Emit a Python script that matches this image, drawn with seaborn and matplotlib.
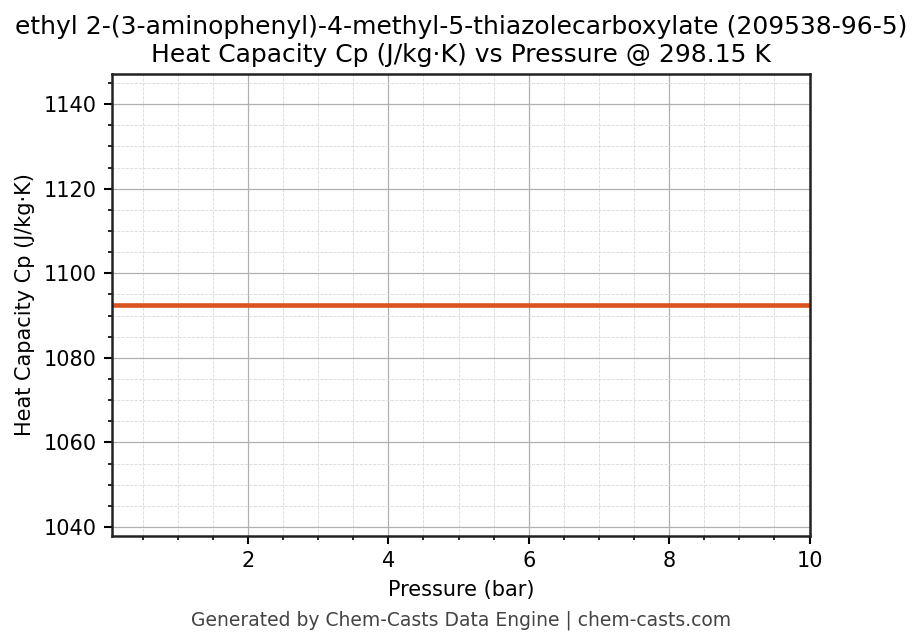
import numpy as np
import pandas as pd
import matplotlib
matplotlib.use("Agg")
import matplotlib.pyplot as plt
import seaborn as sns
from matplotlib.ticker import MultipleLocator

# data: Cp is flat over the pressure range
pressure_bar = [0.07, 2.0, 4.0, 6.0, 8.0, 10.0]
cp_values = [1092.4, 1092.4, 1092.4, 1092.4, 1092.4, 1092.4]

df = pd.DataFrame({"Pressure (bar)": pressure_bar, "Cp": cp_values})

sns.set_style("ticks")
plt.rcParams['font.family'] = ['DejaVu Sans']
plt.rcParams['text.color'] = 'black'
plt.rcParams['axes.labelcolor'] = 'black'
plt.rcParams['xtick.color'] = 'black'
plt.rcParams['ytick.color'] = 'black'

fig, ax = plt.subplots(figsize=(9.22 / 1.5, 6.44 / 1.5), dpi=150)
sns.lineplot(data=df, x="Pressure (bar)", y="Cp", ax=ax, color="#d9541e", linewidth=2.2)

ax.set_xlim(0.07, 10)
ax.set_ylim(1037.9, 1147.1)
ax.xaxis.set_major_locator(MultipleLocator(2))
ax.xaxis.set_minor_locator(MultipleLocator(0.5))
ax.yaxis.set_major_locator(MultipleLocator(20))
ax.yaxis.set_minor_locator(MultipleLocator(5))
ax.grid(which="major", color="#b0b0b0", linewidth=0.6)
ax.grid(which="minor", color="#d8d8d8", linestyle="--", linewidth=0.4)
ax.tick_params(which="major", length=4, width=1)
ax.tick_params(which="minor", length=2, width=0.8)
for s in ax.spines.values():
    s.set_color("#222222")
    s.set_linewidth(1.2)

ax.set_xlabel("Pressure (bar)")
ax.set_ylabel("Heat Capacity Cp (J/kg·K)")
ax.set_title("ethyl 2-(3-aminophenyl)-4-methyl-5-thiazolecarboxylate (209538-96-5)\n"
             "Heat Capacity Cp (J/kg·K) vs Pressure @ 298.15 K", fontsize=12, color="black")

fig.text(0.5, 0.029, "Generated by Chem-Casts Data Engine | chem-casts.com",
         ha="center", fontsize=9, color="#444444")
fig.subplots_adjust(left=0.122, right=0.878, top=0.885, bottom=0.168)
fig.savefig("out.png", dpi=150)
